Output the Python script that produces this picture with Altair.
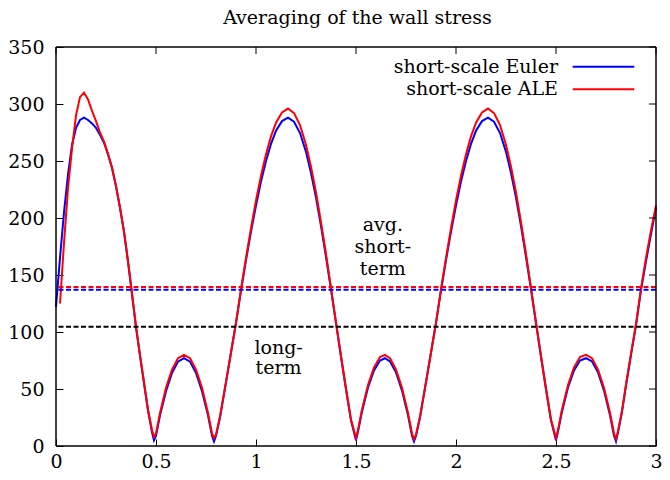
import altair as alt
import pandas as pd

# ---------------- data ----------------
t = [
    0.00, 0.02, 0.04, 0.06, 0.08, 0.10, 0.12, 0.14, 0.16, 0.18, 0.20, 0.22, 0.24,
    0.26, 0.28, 0.30, 0.32, 0.34, 0.36, 0.38, 0.40, 0.42, 0.44, 0.46, 0.48, 0.49,
    0.50, 0.52, 0.55, 0.58, 0.61, 0.64, 0.67, 0.70, 0.73, 0.76, 0.78, 0.79,
    0.80, 0.82, 0.85, 0.875, 0.90, 0.925, 0.95, 0.975, 1.00, 1.025, 1.05, 1.075,
    1.10, 1.13, 1.16, 1.19, 1.22, 1.25, 1.275, 1.30, 1.325, 1.35, 1.375, 1.40,
    1.425, 1.45, 1.475, 1.50,
    1.51, 1.53, 1.56, 1.59, 1.62, 1.645, 1.67, 1.70, 1.73, 1.76, 1.78, 1.79,
    1.80, 1.82, 1.85, 1.875, 1.90, 1.925, 1.95, 1.975, 2.00, 2.025, 2.05, 2.075,
    2.10, 2.13, 2.16, 2.19, 2.22, 2.25, 2.275, 2.30, 2.325, 2.35, 2.375, 2.40,
    2.425, 2.45, 2.475, 2.50,
    2.51, 2.53, 2.56, 2.59, 2.62, 2.65, 2.68, 2.71, 2.74, 2.77, 2.79, 2.80,
    2.81, 2.83, 2.85, 2.875, 2.90, 2.925, 2.95, 2.975, 3.00,
]

euler = [
    122, 165, 205, 238, 264, 279, 286, 288, 286, 283, 279, 273, 266,
    256, 244, 228, 209, 188, 162, 133, 104, 79, 55, 31, 12, 5,
    9, 27, 48, 64, 74, 77, 74, 64, 48, 27, 9, 4,
    9, 25, 56, 82, 108, 136.5, 163, 188, 211, 232, 250, 265,
    276.5, 285, 288, 284.5, 274.5, 258, 239.5, 218, 193, 166, 137.5, 108,
    78.5, 50, 22.5, 5,
    12.7, 30.3, 51.3, 66.3, 75, 77, 74.2, 64.6, 48.6, 27, 9, 4,
    9, 25, 56, 82, 108, 136.5, 163, 188, 211, 232, 250, 265,
    276.5, 285, 288, 284.5, 274.5, 258, 239.5, 218, 193, 166, 137.5, 108,
    78.5, 50, 22.5, 5,
    12.7, 30.3, 51.3, 66.3, 75, 77, 74.2, 64.6, 48.6, 27, 9, 4,
    12, 30, 53, 80, 106, 137, 162, 186, 209,
]

ale = [
    None, 125, 178, 226, 261, 290, 306, 310, 304, 294, 285, 275, 267,
    256, 244, 228, 209, 188, 162, 134, 105, 80, 56, 32, 14, 8,
    11, 29, 51, 67, 77, 80, 77, 67, 51, 29, 11, 7,
    10, 26, 56, 82, 108, 137.3, 165, 191, 215.4, 237, 256, 271.6,
    283.6, 292.6, 296, 292, 281.5, 264.3, 244.9, 222.4, 196.3, 168.4, 138.2, 108,
    78.5, 50, 23, 7,
    14, 32, 53.5, 69, 78, 80, 77, 67, 51, 29, 11, 6,
    10, 26, 56, 82, 108, 137.3, 165, 191, 215.4, 237, 256, 271.6,
    283.6, 292.6, 296, 292, 281.5, 264.3, 244.9, 222.4, 196.3, 168.4, 138.2, 108,
    78.5, 50, 23, 7,
    14, 32, 53.5, 69, 78, 80, 77, 67, 51, 29, 11, 6,
    13, 31, 54, 81, 107, 138, 165, 189, 211,
]

avg_values = [139.5, 137.0, 104.5]
avg_colors = ["#ff0000", "#0000ff", "#000000"]

notes_text = ["avg.", "short-", "term", "long-", "term"]
notes_x = [1.634, 1.634, 1.634, 1.113, 1.113]
notes_y = [188.4, 169.5, 150.1, 81.0, 63.5]

legend_labels = ["short-scale Euler", "short-scale ALE"]
legend_colors = ["#0000ff", "#ff0000"]

title_text = "Averaging of the wall stress"

x_ticks = [0, 0.5, 1, 1.5, 2, 2.5, 3]
y_ticks = [0, 50, 100, 150, 200, 250, 300, 350]

FONT = "DejaVu Serif"
FS = 19
W, H = 600, 399
TL = 7  # tick length

# ---------------- tables ----------------
df_e = pd.DataFrame({"t": t, "v": euler})
df_a = pd.DataFrame({"t": t, "v": ale}).dropna()
df_h = pd.DataFrame({"v": avg_values, "c": avg_colors})
df_n = pd.DataFrame({"label": notes_text, "t": notes_x, "v": notes_y})
df_xt = pd.DataFrame({"t": x_ticks})
df_yt = pd.DataFrame({"v": y_ticks})
one = pd.DataFrame({"k": [0]})

xs = alt.Scale(domain=[0, 3], nice=False, zero=False)
ys = alt.Scale(domain=[0, 350], nice=False, zero=False)

common_axis = dict(
    tickSize=TL, tickWidth=1, tickColor="black", domain=False, grid=False,
    offset=-TL, title=None,
)

ax_x = alt.Axis(orient="bottom", values=x_ticks, format="~g", labelFont=FONT,
                labelFontSize=FS, labelColor="black", labelPadding=6,
                labelFlush=False, **common_axis)
ax_y = alt.Axis(orient="left", values=y_ticks, labelFont=FONT, labelFontSize=FS,
                labelColor="black", labelPadding=12, labelFlush=False,
                labelBaseline="middle", **common_axis)

X = alt.X("t:Q", scale=xs, axis=ax_x)
Y = alt.Y("v:Q", scale=ys, axis=ax_y)

blue = alt.Chart(df_e).mark_line(color="#0000ff", strokeWidth=2).encode(x=X, y=Y)
red = alt.Chart(df_a).mark_line(color="#ff0000", strokeWidth=2).encode(x=X, y=Y)

hlines = alt.Chart(df_h).mark_rule(strokeWidth=2, strokeDash=[5, 2.5]).encode(
    y=Y, color=alt.Color("c:N", scale=None, legend=None),
)

notes = alt.Chart(df_n).mark_text(
    font=FONT, fontSize=FS, color="black", align="center", baseline="alphabetic"
).encode(x=X, y=Y, text="label:N")

# mirrored inward ticks on top and right
top_ticks = alt.Chart(df_xt).mark_rule(color="black", strokeWidth=1).encode(
    x=X, y=alt.value(0), y2=alt.value(TL)
)
right_ticks = alt.Chart(df_yt).mark_rule(color="black", strokeWidth=1).encode(
    y=Y, x=alt.value(W - TL), x2=alt.value(W)
)

# border box
border = [
    alt.Chart(one).mark_rule(color="black", strokeWidth=1.5).encode(
        x=alt.value(0), x2=alt.value(W), y=alt.value(0)),
    alt.Chart(one).mark_rule(color="black", strokeWidth=1.5).encode(
        x=alt.value(0), x2=alt.value(W), y=alt.value(H)),
    alt.Chart(one).mark_rule(color="black", strokeWidth=1.5).encode(
        y=alt.value(0), y2=alt.value(H), x=alt.value(0)),
    alt.Chart(one).mark_rule(color="black", strokeWidth=1.5).encode(
        y=alt.value(0), y2=alt.value(H), x=alt.value(W)),
]

title = alt.Chart(pd.DataFrame({"label": [title_text]})).mark_text(
    font=FONT, fontSize=FS, color="black", align="center", baseline="alphabetic"
).encode(x=alt.value(301.5), y=alt.value(-23.5), text="label:N")

legend_layers = []
leg_text_y = [25.7, 48.0]
leg_line_y = [19.7, 42.3]
for i, (lab, col) in enumerate(zip(legend_labels, legend_colors)):
    legend_layers.append(
        alt.Chart(pd.DataFrame({"label": [lab]})).mark_text(
            font=FONT, fontSize=FS, color="black", align="right", baseline="alphabetic"
        ).encode(x=alt.value(502), y=alt.value(leg_text_y[i]), text="label:N")
    )
    legend_layers.append(
        alt.Chart(pd.DataFrame({"label": [lab]})).mark_rule(color=col, strokeWidth=2).encode(
            x=alt.value(516.7), x2=alt.value(578.3), y=alt.value(leg_line_y[i])
        )
    )

chart = alt.layer(
    blue, red, hlines, notes, top_ticks, right_ticks, *border, title, *legend_layers
).properties(
    width=W,
    height=H,
    autosize=alt.AutoSizeParams(type="none"),
    padding={"left": 48, "top": 39, "right": 6, "bottom": 26},
).configure_view(strokeWidth=0)

chart.save("out.html", embed_options={"renderer": "svg", "actions": False})
